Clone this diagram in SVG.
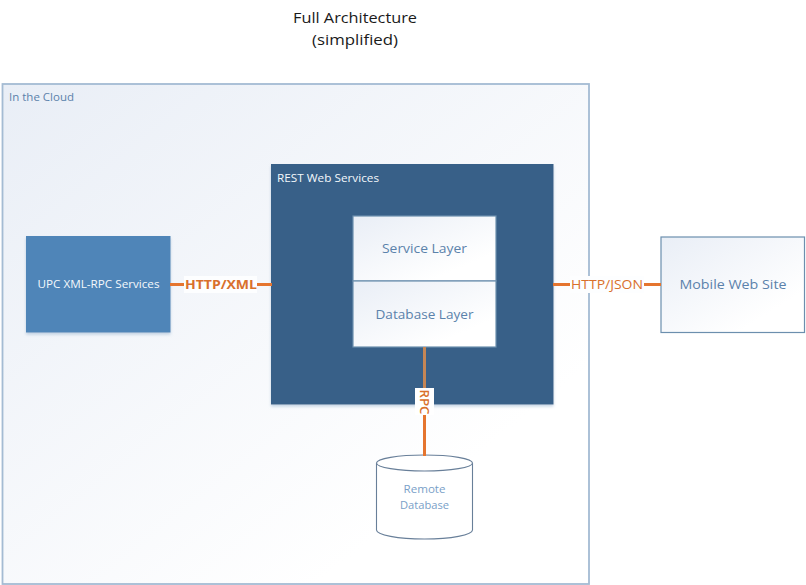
<svg xmlns="http://www.w3.org/2000/svg" width="806" height="585" viewBox="0 0 806 585">
<style>
text{font-family:"Open Sans","Noto Sans","Liberation Sans",sans-serif;text-anchor:middle}
.conn{stroke:#e5752f;stroke-width:3;fill:none}
.lab{fill:#d9702c}
.blue{fill:#5b82ab}
.white{fill:#f4f8fc}
.light{stroke:#6c8fae;stroke-width:1.2;fill:url(#g)}
</style>
<defs>
<linearGradient id="g" x1="0" y1="0" x2="0.75" y2="0.8"><stop offset="0" stop-color="#e9eef6"/><stop offset="1" stop-color="#fff"/></linearGradient>
<filter id="s" x="-5%" y="-5%" width="110%" height="110%"><feDropShadow dx="0" dy="2" stdDeviation="1.5" flood-color="#9db7d2" flood-opacity="0.6"/></filter>
</defs>
<rect width="806" height="585" fill="#fff"/>
<g id="title"><text x="355" y="23" font-size="15.2" fill="#1a1a1a" textLength="124" lengthAdjust="spacingAndGlyphs">Full Architecture</text><text x="355" y="45" font-size="15.2" fill="#1a1a1a" textLength="86" lengthAdjust="spacingAndGlyphs">(simplified)</text></g>
<g id="cloud"><rect x="2.5" y="84" width="586.5" height="500" fill="url(#g)" stroke="#a4bbd3" stroke-width="1.8"/><text x="41.500" y="101" font-size="10.500" class="blue" textLength="65" lengthAdjust="spacingAndGlyphs">In the Cloud</text></g>
<g id="upc"><rect x="26" y="236" width="144.500" height="96.500" fill="#4f85b8" filter="url(#s)"/><text x="98.500" y="288" font-size="10.500" class="white" textLength="122" lengthAdjust="spacingAndGlyphs">UPC XML-RPC Services</text></g>
<g id="rest"><rect x="271" y="164" width="282.500" height="240.500" fill="#376088" filter="url(#s)"/><text x="328" y="182" font-size="10.500" class="white" textLength="102" lengthAdjust="spacingAndGlyphs">REST Web Services</text></g>
<g id="service"><rect x="353" y="216" width="143" height="65" class="light"/><text x="424.500" y="253" font-size="12.500" class="blue" textLength="85" lengthAdjust="spacingAndGlyphs">Service Layer</text></g>
<g id="database"><rect x="353" y="281" width="143" height="66" class="light"/><text x="424.500" y="319" font-size="12.500" class="blue" textLength="98" lengthAdjust="spacingAndGlyphs">Database Layer</text></g>
<g id="mobile"><rect x="661" y="237" width="143.500" height="95.500" class="light"/><text x="733" y="289" font-size="12.500" class="blue" textLength="107" lengthAdjust="spacingAndGlyphs">Mobile Web Site</text></g>
<g id="remote"><path d="M376.500 463V530C376.500 535 398 539 424.500 539S472.500 535 472.500 530V463" fill="#fff" stroke="#687f99" stroke-width="1.100"/><ellipse cx="424.500" cy="463" rx="48" ry="8" fill="#fff" stroke="#687f99" stroke-width="1.100"/><text x="424.500" y="493" font-size="10.500" fill="#7a9fc8" textLength="42" lengthAdjust="spacingAndGlyphs">Remote</text><text x="424.500" y="509" font-size="10.500" fill="#7a9fc8" textLength="49" lengthAdjust="spacingAndGlyphs">Database</text></g>
<g id="connectors">
<path class="conn" d="M170 284.500H272"/>
<path class="conn" d="M553 284.500H661"/>
<path d="M424.500 347V388" stroke="#c58655" stroke-width="3" fill="none"/>
<path class="conn" d="M424.500 388V456"/>
<rect x="184" y="276" width="73" height="17" fill="#fdfeff"/>
<rect x="570" y="276" width="74" height="17" fill="#fdfeff"/>
<rect x="415" y="388" width="19" height="27" fill="#fff"/>
<text x="221" y="289" font-size="13" font-weight="700" class="lab" textLength="72" lengthAdjust="spacingAndGlyphs">HTTP/XML</text>
<text x="607" y="289" font-size="13" class="lab" textLength="72" lengthAdjust="spacingAndGlyphs">HTTP/JSON</text>
<text transform="translate(420 402) rotate(90)" font-size="12.500" font-weight="600" class="lab" textLength="25" lengthAdjust="spacingAndGlyphs">RPC</text>
</g>
</svg>
